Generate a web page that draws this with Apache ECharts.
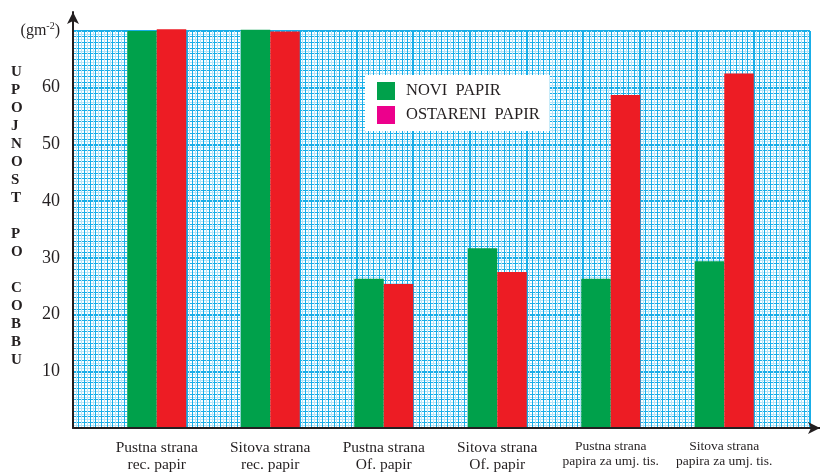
<!DOCTYPE html>
<html>
<head>
<meta charset="utf-8">
<script src="https://cdn.jsdelivr.net/npm/echarts@6/dist/echarts.min.js"></script>
<style>
  html, body { margin: 0; padding: 0; background: #fff; }
  #chart { width: 820px; height: 475px; }
</style>
</head>
<body>
<div id="chart"></div>
<script>
var categories = [
  'Pustna strana\nrec. papir',
  'Sitova strana\nrec. papir',
  'Pustna strana\nOf. papir',
  'Sitova strana\nOf. papir',
  'Pustna strana\npapira za umj. tis.',
  'Sitova strana\npapira za umj. tis.'
];
var noviPapir = [70.0, 70.2, 26.3, 31.7, 26.3, 29.4];
var ostareniPapir = [70.3, 69.9, 25.4, 27.5, 58.7, 62.5];
var yTicks = [10, 20, 30, 40, 50, 60];
var yTitle = ['U', 'P', 'O', 'J', 'N', 'O', 'S', 'T', '', 'P', 'O', '', 'C', 'O', 'B', 'B', 'U'];

var serif = '"Liberation Serif", "DejaVu Serif", serif';
var ink = '#231f20';
var blue = '#19aee8';
var lightBlue = '#b4e4f8';

var chart = echarts.init(document.getElementById('chart'));

// one hidden axis per line weight of the graph paper
function paperX(step, color, width) {
  return {
    type: 'value', gridIndex: 0, min: 0, max: 130, interval: step,
    axisLine: { show: false }, axisTick: { show: false }, axisLabel: { show: false },
    splitLine: { lineStyle: { color: color, width: width } }
  };
}
function paperY(step, color, width) {
  return {
    type: 'value', gridIndex: 0, min: 0, max: 70, interval: step, position: 'left',
    axisLine: { show: false }, axisTick: { show: false }, axisLabel: { show: false },
    splitLine: { lineStyle: { color: color, width: width } }
  };
}

var yLabelAxis = paperY(10, blue, 2);
yLabelAxis.axisLabel = {
  show: true, margin: 13, color: ink, fontFamily: serif, fontSize: 18,
  formatter: function (v) {
    if (v === 70) return '{a|(gm}{s|-2}{a|)}';
    return yTicks.indexOf(v) >= 0 ? String(v) : '';
  },
  rich: {
    a: { fontSize: 16, fontFamily: serif, color: ink },
    s: { fontSize: 10, fontFamily: serif, color: ink, padding: [0, 0, 9, 0] }
  }
};

var option = {
  backgroundColor: '#ffffff',
  animation: false,
  grid: [
    // graph paper
    { left: 73, right: 10, top: 31, bottom: 47 },
    // bars
    { left: 100, right: 39, top: 31, bottom: 47 },
    // axis arrows
    { left: 73, right: 0, top: 12, bottom: 47 }
  ],
  xAxis: [
    paperX(0.5, lightBlue, 1),
    paperX(1, blue, 1),
    paperX(10, blue, 2),
    {
      type: 'category', gridIndex: 1, data: categories.map(function (c, i) {
        return i < 4 ? c : { value: c, textStyle: { fontSize: 13.5, lineHeight: 15 } };
      }),
      axisLine: { show: false }, axisTick: { show: false },
      axisLabel: {
        interval: 0, margin: 11, color: ink, fontFamily: serif,
        fontSize: 15.5, lineHeight: 17
      },
      splitLine: { show: false }
    },
    {
      type: 'value', gridIndex: 2, min: 0, max: 100, z: 10,
      axisLine: {
        show: true, onZero: false, symbol: ['none', 'arrow'], symbolSize: [9, 12],
        lineStyle: { color: ink, width: 2 }
      },
      axisTick: { show: false }, axisLabel: { show: false }, splitLine: { show: false }
    }
  ],
  yAxis: [
    paperY(0.5, lightBlue, 1),
    paperY(1, blue, 1),
    yLabelAxis,
    {
      type: 'value', gridIndex: 1, min: 0, max: 70, show: false
    },
    {
      type: 'value', gridIndex: 2, min: 0, max: 100, z: 10,
      axisLine: {
        show: true, onZero: false, symbol: ['none', 'arrow'], symbolSize: [9, 12],
        lineStyle: { color: ink, width: 2 }
      },
      axisTick: { show: false }, axisLabel: { show: false }, splitLine: { show: false }
    }
  ],
  legend: {
    left: 365, top: 75, orient: 'vertical',
    backgroundColor: '#ffffff',
    padding: [7, 10, 7, 12],
    itemWidth: 18, itemHeight: 18, itemGap: 6,
    icon: 'rect',
    textStyle: { color: ink, fontFamily: serif, fontSize: 16.5, padding: [0, 0, 0, 6] },
    data: [
      { name: 'NOVI  PAPIR', itemStyle: { color: '#00a14b' } },
      { name: 'OSTARENI  PAPIR', itemStyle: { color: '#ec008c' } }
    ]
  },
  graphic: [{
    type: 'text', left: 11, top: 63,
    style: {
      text: yTitle.join('\n'), fill: ink, font: 'bold 15px ' + serif,
      lineHeight: 18, align: 'center'
    }
  }],
  series: [
    {
      name: 'NOVI  PAPIR', type: 'bar', xAxisIndex: 3, yAxisIndex: 3,
      data: noviPapir, barWidth: 29.5, barGap: '0%', clip: false,
      itemStyle: { color: '#00a14b' }
    },
    {
      name: 'OSTARENI  PAPIR', type: 'bar', xAxisIndex: 3, yAxisIndex: 3,
      data: ostareniPapir, barWidth: 29.5, barGap: '0%', clip: false,
      itemStyle: { color: '#ed1c24' }
    }
  ]
};

chart.setOption(option);
</script>
</body>
</html>
